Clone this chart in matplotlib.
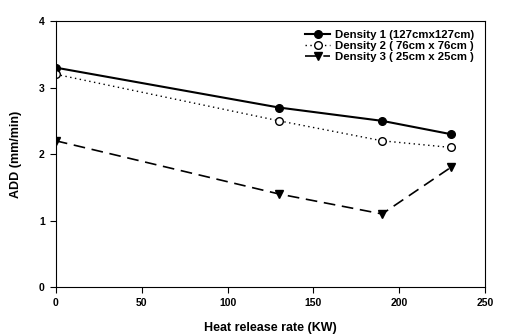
import matplotlib
matplotlib.use("Agg")
import matplotlib.pyplot as plt

plt.rcParams['font.family'] = ['Liberation Sans', 'DejaVu Sans']

heat = [0, 130, 190, 230]
density1 = [3.3, 2.7, 2.5, 2.3]
density2 = [3.2, 2.5, 2.2, 2.1]
density3 = [2.2, 1.4, 1.1, 1.8]
labels = ["Density 1 (127cmx127cm)", "Density 2 ( 76cm x 76cm )", "Density 3 ( 25cm x 25cm )"]

fig = plt.figure(figsize=(5.08, 3.35), dpi=100)
ax = fig.add_axes([0.110, 0.143, 0.845, 0.794])

ax.plot(heat, density1, color='black', lw=1.5, ls='-', marker='o', ms=5.5, label=labels[0])
ax.plot(heat, density2, color='black', lw=1.0, ls=(0, (1, 2.5)), marker='o', ms=5.5,
        mfc='white', mec='black', label=labels[1])
ax.plot(heat, density3, color='black', lw=1.2, ls=(0, (7, 4)), marker='v', ms=5.5, label=labels[2])

ax.set_xlim(0, 250)
ax.set_ylim(0, 4)
ax.set_xticks([0, 50, 100, 150, 200, 250])
ax.set_yticks([0, 1, 2, 3, 4])
ax.tick_params(axis='both', direction='out', length=4, width=0.8, labelsize=7.5, pad=4)
for lab in ax.get_xticklabels() + ax.get_yticklabels():
    lab.set_fontweight('bold')

ax.set_xlabel("Heat release rate (KW)", fontsize=9, fontweight='bold', labelpad=10)
ax.set_ylabel("ADD (mm/min)", fontsize=9, fontweight='bold', labelpad=12)

leg = ax.legend(loc='upper right', frameon=False, handlelength=2.2, handletextpad=0.4,
                borderaxespad=0.4, labelspacing=0.08, bbox_to_anchor=(0.995, 1.0),
                prop={'weight': 'bold', 'size': 8.2})

fig.savefig("out.png", dpi=100)
